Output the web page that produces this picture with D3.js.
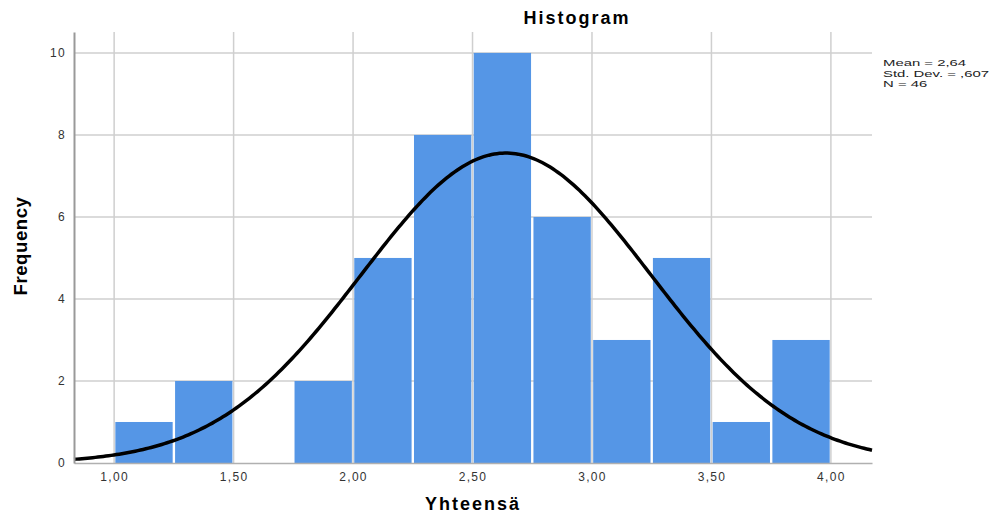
<!DOCTYPE html>
<html>
<head>
<meta charset="utf-8">
<script src="https://cdn.jsdelivr.net/npm/d3@7"></script>
<style>
  body { margin: 0; background: #fff; }
  svg { display: block; font-family: "Liberation Sans", Arial, sans-serif; }
</style>
</head>
<body>
<div id="chart"></div>
<script>
// histogram bins (lower edge) and counts
const binStarts = [1.00, 1.25, 1.50, 1.75, 2.00, 2.25, 2.50, 2.75, 3.00, 3.25, 3.50, 3.75];
const counts = [1, 2, 0, 2, 5, 8, 10, 6, 3, 5, 1, 3];
const binWidth = 0.25;
const xTicks = [1.0, 1.5, 2.0, 2.5, 3.0, 3.5, 4.0];
const yTicks = [0, 2, 4, 6, 8, 10];
const statLines = ["Mean = 2,64", "Std. Dev. = ,607", "N = 46"];
const mean = 2.64;
const sd = 0.607;
const n = 46;

const width = 989;
const height = 515;
const padding = { top: 32, bottom: 52, left: 74, right: 117 };
const chartWidth = width - padding.left - padding.right;
const chartHeight = height - padding.top - padding.bottom;

const xScale = d3.scaleLinear([0.832, 4.172], [0, chartWidth]);
const yScale = d3.scaleLinear([0, 10.51], [chartHeight, 0]);

const svg = d3.select("#chart").append("svg")
  .attr("width", width)
  .attr("height", height);

const chart = svg.append("g")
  .attr("transform", `translate(${padding.left}, ${padding.top})`);

// grid
chart.append("g")
  .selectAll("line")
  .data(yTicks.slice(1))
  .join("line")
  .attr("x1", 0).attr("x2", chartWidth)
  .attr("y1", (d) => yScale(d)).attr("y2", (d) => yScale(d))
  .attr("stroke", "#cfcfcf").attr("stroke-width", 1.5);
chart.append("g")
  .selectAll("line")
  .data(xTicks)
  .join("line")
  .attr("x1", (d) => xScale(d)).attr("x2", (d) => xScale(d))
  .attr("y1", 0).attr("y2", chartHeight)
  .attr("stroke", "#cfcfcf").attr("stroke-width", 1.5);

// bars
chart.append("g")
  .selectAll("rect")
  .data(binStarts.map((s, i) => ({ s, c: counts[i] })).filter((d) => d.c > 0))
  .join("rect")
  .attr("x", (d) => xScale(d.s) + 1.2)
  .attr("width", (d) => xScale(d.s + binWidth) - xScale(d.s) - 2.4)
  .attr("y", (d) => yScale(d.c))
  .attr("height", (d) => yScale(0) - yScale(d.c))
  .attr("fill", "#5596e6");

// normal curve from the stated mean / sd
const [x0, x1] = xScale.domain();
const curvePts = d3.range(0, 301).map((i) => {
  const x = x0 + (x1 - x0) * i / 300;
  const z = (x - mean) / sd;
  return [x, n * binWidth / (sd * Math.sqrt(2 * Math.PI)) * Math.exp(-0.5 * z * z)];
});
chart.append("path")
  .attr("d", d3.line().x((d) => xScale(d[0])).y((d) => yScale(d[1]))(curvePts))
  .attr("fill", "none")
  .attr("stroke", "#000")
  .attr("stroke-width", 3.5);

// axes
const bottomAxis = d3.axisBottom(xScale)
  .tickValues(xTicks)
  .tickSize(0)
  .tickPadding(9)
  .tickFormat((v) => d3.format(".2f")(v).replace(".", ","));
const bx = chart.append("g")
  .attr("transform", `translate(0, ${chartHeight})`)
  .call(bottomAxis);
bx.select(".domain").attr("stroke", "#b0b0b0").attr("stroke-width", 1.5);
bx.selectAll("text")
  .style("font-size", "12px")
  .style("letter-spacing", "1.3px")
  .attr("fill", "#333");

const leftAxis = d3.axisLeft(yScale)
  .tickValues(yTicks)
  .tickSize(0)
  .tickPadding(8);
const ly = chart.append("g").call(leftAxis);
ly.select(".domain").attr("stroke", "#999").attr("stroke-width", 2);
ly.selectAll("text")
  .style("font-size", "12px")
  .style("letter-spacing", "1.3px")
  .attr("fill", "#333");

// titles
svg.append("text")
  .attr("x", 577).attr("y", 24)
  .attr("text-anchor", "middle")
  .style("font-size", "18px").style("font-weight", "bold")
  .style("letter-spacing", "2px")
  .text("Histogram");

svg.append("text")
  .attr("x", padding.left + chartWidth / 2)
  .attr("y", 510)
  .attr("text-anchor", "middle")
  .style("font-size", "18px").style("font-weight", "bold")
  .style("letter-spacing", "2px")
  .text("Yhteensä");

svg.append("text")
  .attr("transform", `translate(27, 246) rotate(-90)`)
  .attr("text-anchor", "middle")
  .style("font-size", "18.5px").style("font-weight", "bold")
  .style("letter-spacing", "0.6px")
  .text("Frequency");

// stats box (stretched horizontally like the source renderer)
svg.append("g")
  .attr("transform", "translate(883, 66) scale(1.52, 1)")
  .selectAll("text")
  .data(statLines)
  .join("text")
  .attr("x", 0)
  .attr("y", (d, i) => i * 10.6)
  .style("font-size", "9.8px")
  .attr("fill", "#222")
  .text((d) => d);
</script>
</body>
</html>
